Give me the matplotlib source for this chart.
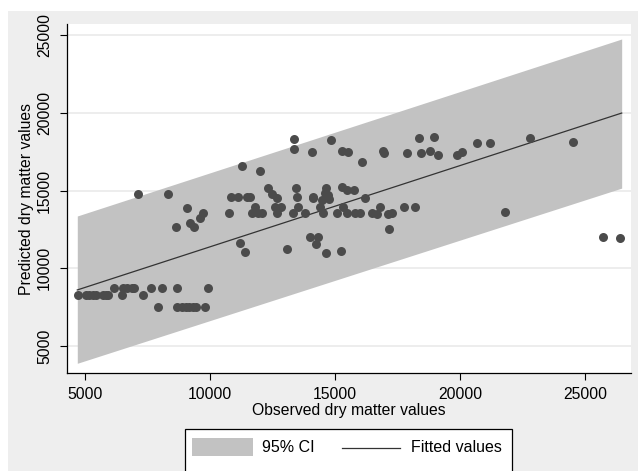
import numpy as np
import matplotlib
matplotlib.use("Agg")
import matplotlib.pyplot as plt
from matplotlib.patches import Rectangle
from matplotlib.lines import Line2D

plt.rcParams['font.family'] = ['Liberation Sans', 'DejaVu Sans']

# observed vs predicted dry matter
obs_x = [4700, 5030, 5160, 5330, 5430, 5710, 5830, 5930, 6470, 7330,
         6170, 6530, 6670, 6870, 6970, 7630, 8090, 8690, 9930,
         7930, 8670, 8870, 9030, 9160, 9330, 9430, 9800,
         7130, 8330, 9070, 8640, 9200, 9360, 9600, 9710,
         13360, 13360, 14070, 11270, 12000,
         10840, 11130, 11470, 11600, 12310, 12490, 12670,
         13440, 13470, 14130, 10770, 11800, 11690, 11930, 12070,
         12600, 12840, 12670, 13330, 13530, 13800,
         11200, 11400, 13070, 14000, 14250,
         14830, 15270, 15530, 16930, 16960, 17870, 18440, 18360, 18970,
         18800, 19130, 19870, 20070, 20670, 21200, 22800, 24530,
         25710, 26400, 18200, 21800, 16070, 14640,
         14600, 14730, 14130, 14470, 14770, 15270, 15470, 15770, 16200,
         14400, 14530, 15070, 15330, 15470, 15800, 16000,
         16470, 16690, 16800, 17130, 17270, 17770, 17160,
         14330, 14640, 15230]
pred_y = [8300, 8300, 8300, 8300, 8300, 8300, 8300, 8300, 8300, 8300,
          8700, 8700, 8700, 8700, 8700, 8700, 8700, 8700, 8700,
          7530, 7530, 7530, 7530, 7530, 7530, 7530, 7530,
          14760, 14760, 13900, 12670, 12890, 12640, 13210, 13570,
          18290, 17650, 17460, 16590, 16270,
          14600, 14600, 14600, 14600, 15140, 14780, 14500,
          15140, 14600, 14600, 13540, 13920, 13540, 13540, 13540,
          13920, 13920, 13540, 13540, 13920, 13570,
          11610, 11070, 11240, 12030, 11580,
          18250, 17540, 17490, 17540, 17430, 17430, 17390, 18360, 18460,
          17540, 17280, 17280, 17490, 18070, 18030, 18360, 18100,
          12030, 11930, 13920, 13600, 16850, 15180,
          14860, 14710, 14500, 14390, 14440, 15240, 15030, 15030, 14500,
          13920, 13570, 13570, 13920, 13570, 13570, 13540,
          13570, 13470, 13920, 13470, 13570, 13920, 12530,
          12030, 10960, 11110]

# fitted line and 95% CI band end points
fit_x = [4692, 26467]
fit_y = [8605, 19980]
ci_lo = [3888, 15154]
ci_hi = [13361, 24743]

x_ticks = [5000, 10000, 15000, 20000, 25000]
y_ticks = [5000, 10000, 15000, 20000, 25000]

W, H = 638, 471
fig = plt.figure(figsize=(W / 100, H / 100), dpi=100)
fig.patch.set_facecolor('white')


def fx(px):
    return px / W


def fy(py):
    return 1 - py / H


# gray graph region (white strip at left/top)
fig.add_artist(Rectangle((fx(8), 0), 1, fy(11), transform=fig.transFigure,
                         facecolor='#eeeeee', edgecolor='none', zorder=-10))

ax = fig.add_axes([fx(67.3), fy(373), fx(630.7) - fx(67.3), fy(24.3) - fy(373)])
ax.set_facecolor('white')

ax.fill_between(fit_x, ci_lo, ci_hi, color='#c2c2c2', linewidth=0, zorder=1)
ax.scatter(obs_x, pred_y, s=42, color='#4b4b4b', linewidths=0, zorder=3)
ax.plot(fit_x, fit_y, color='#333333', linewidth=0.9, zorder=2)

ax.set_xlim(4292, 26828)
ax.set_ylim(3264, 25688)
ax.set_xticks(x_ticks)
ax.set_yticks(y_ticks)
ax.set_yticklabels([str(v) for v in y_ticks], rotation=90, va='center')
ax.tick_params(axis='both', direction='out', length=5, width=0.8,
               labelsize=11.3, pad=5, color='black')
ax.tick_params(axis='y', pad=6)
ax.grid(axis='y', color='#eaeaea', linewidth=1.2, zorder=0)
ax.set_axisbelow(True)

for s in ['top', 'right']:
    ax.spines[s].set_visible(False)
for s in ['left', 'bottom']:
    ax.spines[s].set_linewidth(0.9)
    ax.spines[s].set_color('black')

ax.set_xlabel("Observed dry matter values", fontsize=11.3, labelpad=1)
ax.set_ylabel("Predicted dry matter values", fontsize=11.3, labelpad=2.5)

# legend box (runs off the bottom edge like the original)
fig.add_artist(Rectangle((fx(185), fy(490)), fx(512) - fx(185), fy(429) - fy(490),
                         transform=fig.transFigure, facecolor='white',
                         edgecolor='black', linewidth=0.9))
fig.add_artist(Rectangle((fx(192), fy(456)), fx(253) - fx(192), fy(438) - fy(456),
                         transform=fig.transFigure, facecolor='#c2c2c2',
                         edgecolor='none'))
fig.text(fx(261.5), fy(447.5), "95% CI", fontsize=11.5, va='center', ha='left')
fig.add_artist(Line2D([fx(342), fx(400)], [fy(447.5), fy(447.5)],
                      transform=fig.transFigure, color='#333333', linewidth=0.9))
fig.text(fx(411.5), fy(447.5), "Fitted values", fontsize=11.5, va='center', ha='left')

fig.savefig('out.png', dpi=100)
